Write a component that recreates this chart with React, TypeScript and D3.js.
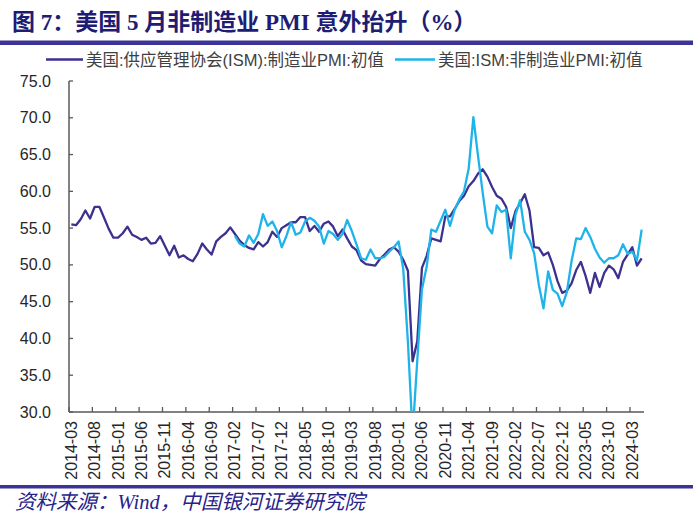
import React from 'react';
import * as d3 from 'd3';

// 月份: 2014-03 ~ 2024-05
const months = d3
  .timeMonth.range(new Date(2014, 2, 1), new Date(2024, 5, 1))
  .map(d3.timeFormat('%Y-%m'));

const tickLabels = [
  '2014-03', '2014-08', '2015-01', '2015-06', '2015-11', '2016-04', '2016-09',
  '2017-02', '2017-07', '2017-12', '2018-05', '2018-10', '2019-03', '2019-08',
  '2020-01', '2020-06', '2020-11', '2021-04', '2021-09', '2022-02', '2022-07',
  '2022-12', '2023-05', '2023-10', '2024-03'
];

const yTicks = [30, 35, 40, 45, 50, 55, 60, 65, 70, 75];

// 制造业PMI 初值 (2014-03 起)
const mfgPmi = [
  55.5, 55.4, 56.2, 57.4, 56.3, 57.9, 57.9, 56.4, 54.9, 53.7, 53.7, 54.3,
  55.2, 54.1, 53.8, 53.4, 53.7, 52.9, 53.0, 53.9, 52.6, 51.3, 52.6, 51.0,
  51.3, 50.8, 50.5, 51.5, 52.9, 52.1, 51.4, 53.2, 53.8, 54.3, 55.1, 54.2,
  53.3, 52.7, 52.3, 52.1, 53.1, 52.5, 53.1, 54.5, 53.8, 55.0, 55.4, 55.8,
  55.8, 56.5, 56.5, 54.6, 55.3, 54.5, 55.6, 55.9, 55.2, 53.9, 54.8, 53.6,
  52.5, 52.0, 50.6, 50.1, 50.0, 49.9, 50.8, 51.4, 52.1, 52.4, 51.8, 50.7,
  49.2, 36.9, 39.6, 49.6, 51.2, 53.6, 53.4, 53.2, 56.6, 56.6, 57.6, 58.7,
  59.4, 60.7, 61.4, 62.4, 63.0, 62.0, 60.6, 59.4, 59.0, 57.9, 55.0, 57.3,
  58.4, 59.6, 57.4, 52.4, 52.3, 51.3, 51.7, 50.0, 47.8, 46.2, 46.5, 47.5,
  49.3, 50.4, 48.5, 46.2, 48.9, 47.0, 48.9, 49.9, 49.4, 48.2, 50.4, 51.4,
  52.4, 49.9, 50.9
];

// 非制造业PMI 初值 (2017-02 起)
const nonMfgStart = '2017-02';
const nonMfgPmi = [
  53.9, 52.9, 52.5, 54.0, 53.0, 54.2, 56.9, 55.3, 55.9, 54.6, 52.4, 53.9,
  55.8, 54.1, 54.4, 55.9, 56.4, 56.0, 55.2, 52.9, 54.6, 54.2, 53.4, 54.2,
  56.1, 54.6, 52.8, 50.9, 50.7, 52.1, 50.9, 50.9, 51.1, 51.8, 52.4, 53.2,
  49.4, 39.5, 27.0, 37.0, 46.7, 49.7, 54.8, 54.5, 56.0, 57.5, 55.3, 57.5,
  58.9, 60.0, 63.1, 70.1, 64.8, 59.8, 55.2, 54.3, 58.1, 57.2, 57.5, 50.9,
  56.8, 58.8, 54.5, 53.4, 51.6, 47.3, 44.1, 49.1, 46.6, 46.1, 44.4, 46.3,
  50.5, 53.6, 53.5, 55.0, 53.8, 52.2, 51.0, 50.3, 50.9, 50.9, 51.3, 52.8,
  51.5, 51.8, 50.6, 54.8
];

const seriesNames = ['美国:供应管理协会(ISM):制造业PMI:初值', '美国:ISM:非制造业PMI:初值'];
const colors = ['#3d3190', '#1eb4ea'];

const W = 700;
const H = 524;
const left = 69;
const right = 644;
const top = 81;
const bottom = 412;

const x = d3.scaleBand<string>().domain(months).range([left, right]).padding(0);
const y = d3.scaleLinear().domain([30, 75]).range([bottom, top]);
const cx = (m: string) => (x(m) as number) + x.bandwidth() / 2;

const startIdx = months.indexOf(nonMfgStart);
const mfgData = mfgPmi.map((v, i) => ({ m: months[i], v }));
const nonMfgData = nonMfgPmi.map((v, i) => ({ m: months[startIdx + i], v }));

const line = d3
  .line<{ m: string; v: number }>()
  .x(d => cx(d.m))
  .y(d => y(d.v));

const axisFont = '"Liberation Sans", Arial, "Noto Sans CJK SC", sans-serif';

export default function App() {
  return (
    <div style={{ position: 'absolute', left: 0, top: 0 }}>
      <svg width={W} height={H} style={{ display: 'block', background: '#fff' }}>
        <defs>
          <clipPath id="plot">
            <rect x={left} y={top - 10} width={right - left + 5} height={bottom - top + 10} />
          </clipPath>
        </defs>

        {/* 标题 */}
        <text
          x={12}
          y={30}
          fontSize={23}
          fontWeight="bold"
          fill="#201c73"
          fontFamily='"Liberation Serif", "Noto Sans CJK SC", serif'
        >
          图 7：美国 5 月非制造业 PMI 意外抬升（%）
        </text>
        <rect x={0} y={40.5} width={693} height={4.5} fill="#3b3396" />

        {/* 图例 */}
        <g fontFamily={axisFont} fontSize={16.5} fill="#404040">
          <line x1={46} x2={83} y1={59.5} y2={59.5} stroke={colors[0]} strokeWidth={2.5} />
          <text x={86} y={60} dominantBaseline="central">{seriesNames[0]}</text>
          <line x1={395} x2={435} y1={59.5} y2={59.5} stroke={colors[1]} strokeWidth={2.5} />
          <text x={438} y={60} dominantBaseline="central">{seriesNames[1]}</text>
        </g>

        {/* Y 轴 */}
        <g fontFamily={axisFont} fontSize={16} fill="#262626">
          {yTicks.map(t => (
            <g key={t}>
              <line x1={left} x2={left + 4} y1={y(t)} y2={y(t)} stroke="#595959" strokeWidth={1.3} />
              <text x={51} y={y(t)} textAnchor="end" dominantBaseline="central">
                {t.toFixed(1)}
              </text>
            </g>
          ))}
        </g>
        <line x1={left} x2={left} y1={top} y2={bottom} stroke="#595959" strokeWidth={1.5} />

        {/* X 轴 */}
        <line x1={left} x2={right} y1={bottom} y2={bottom} stroke="#595959" strokeWidth={1.5} />
        <g fontFamily={axisFont} fontSize={16} fill="#262626">
          {tickLabels.map(m => (
            <g key={m}>
              <line
                x1={x(m) as number}
                x2={x(m) as number}
                y1={bottom}
                y2={bottom - 5}
                stroke="#595959"
                strokeWidth={1.3}
              />
              <text
                transform={`translate(${cx(m)},${bottom + 9}) rotate(-90)`}
                textAnchor="end"
                dominantBaseline="central"
              >
                {m}
              </text>
            </g>
          ))}
        </g>

        {/* 折线 */}
        <g clipPath="url(#plot)" fill="none" strokeWidth={2.3} strokeLinejoin="round">
          <path d={line(mfgData) || ''} stroke={colors[0]} />
          <path d={line(nonMfgData) || ''} stroke={colors[1]} />
        </g>

        {/* 底部 */}
        <rect x={0} y={485} width={693} height={3.5} fill="#3b3396" />
        <text
          x={15}
          y={509}
          fontSize={20.5}
          fontStyle="italic"
          fill="#27238a"
          fontFamily='"Liberation Serif", "Noto Sans CJK SC", serif'
        >
          资料来源：Wind，中国银河证券研究院
        </text>
      </svg>
    </div>
  );
}
